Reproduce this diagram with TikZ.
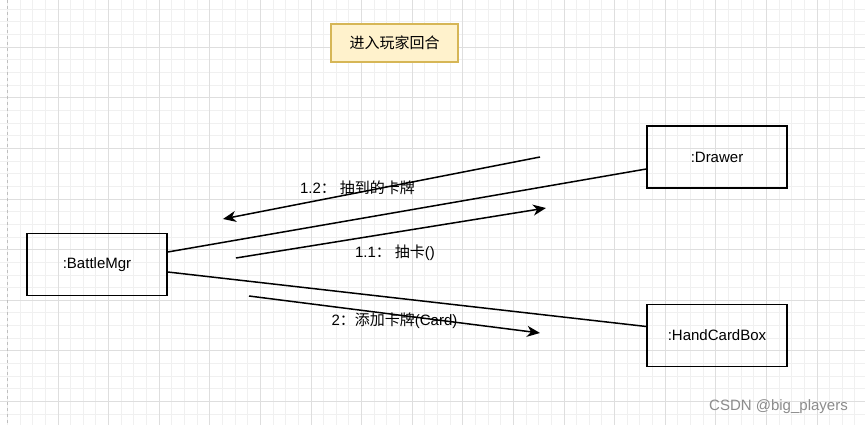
\documentclass[tikz,border=0pt]{standalone}
\usepackage{fontspec}
\setmainfont{Liberation Sans}
\newfontfamily\cjk{Noto Sans CJK SC}
\usetikzlibrary{positioning,arrows.meta}

\definecolor{gridminor}{RGB}{240,240,240}
\definecolor{gridmajor}{RGB}{222,222,222}
\definecolor{notefill}{RGB}{255,242,204}
\definecolor{notedraw}{RGB}{214,182,86}
\definecolor{wmark}{RGB}{140,140,140}

\begin{document}
\begin{tikzpicture}[x=1pt,y=-1pt,
			every node/.style = {font=\fontsize{15}{18}\selectfont, inner sep=0pt},
			objbox/.style = {draw=black, line width=1.5pt,
				minimum width=140pt, minimum height=62pt},
			titlebox/.style = {draw=notedraw, fill=notefill, line width=1.2pt,
				minimum width=127pt, minimum height=38pt},
			link/.style = {line width=1.5pt},
			msg/.style = {line width=1.5pt, -{Stealth[length=13pt,width=11pt,inset=4pt]}}]
			\useasboundingbox (0,0) rectangle (865,425);
			\fill[white] (0,0) rectangle (865,425);
			% grid
			\foreach \k in {0,...,67}
				\draw[gridminor, line width=1pt] ({7.4+12.65*\k},0) -- ({7.4+12.65*\k},425);
			\foreach \k in {1,...,33}
				\draw[gridminor, line width=1pt] (0,{-3.3+12.65*\k}) -- (865,{-3.3+12.65*\k});
			\foreach \k in {1,...,16}
				\draw[gridmajor, line width=1pt] ({7.4+50.6*\k},0) -- ({7.4+50.6*\k},425);
			\foreach \k in {0,...,7}
				\draw[gridmajor, line width=1pt] (0,{47.3+50.6*\k}) -- (865,{47.3+50.6*\k});
			\draw[black!25, line width=1.2pt, dash pattern=on 3pt off 3pt] (7.4,0) -- (7.4,425);
			
			% objects
			\node[titlebox] (title) at (394.5,43) {\cjk 进入玩家回合};
			\node[objbox] (battlemgr) at (97,264.5) {:BattleMgr};
			\node[objbox] (drawer) at (717,157) {:Drawer};
			\node[objbox, below=115pt of drawer] (handcardbox) {:HandCardBox};
			
			% links
			\draw[link] ([yshift=12.5pt]battlemgr.east) -- ([yshift=-12pt]drawer.west);
			\draw[link] ([yshift=-7.5pt]battlemgr.east) -- ([yshift=9pt]handcardbox.west);
			
			% messages
			\coordinate (m12s) at (540,157);
			\coordinate (m12e) at (223,219);
			\coordinate (m11s) at (236,258);
			\coordinate (m11e) at (546,208);
			\coordinate (m2s) at (249,296);
			\coordinate (m2e) at (540,333);
			\draw[msg] (m12s) -- (m12e);
			\draw[msg] (m11s) -- (m11e);
			\draw[msg] (m2s) -- (m2e);
			\node (l12) at (357.5,188) {1.2{\cjk ：}\hspace{4pt}{\cjk 抽到的卡牌}};
			\node (l11) at (395,253) {1.1{\cjk ：}\hspace{4pt}{\cjk 抽卡}()};
			\node (l2) at (394.5,321) {2{\cjk ：添加卡牌}(Card)};
			
			\node[text=wmark, anchor=east] (wm) at (848,407) {CSDN @big\_players};
\end{tikzpicture}
\end{document}
